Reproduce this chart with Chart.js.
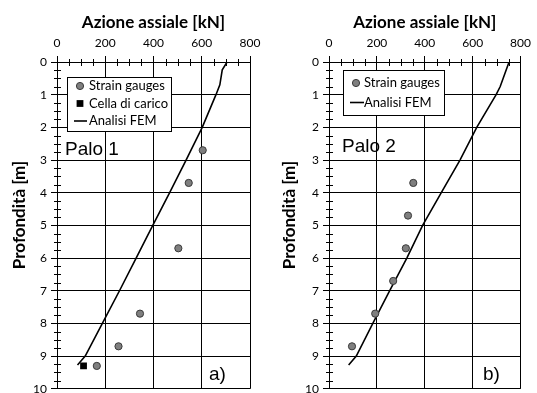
<!DOCTYPE html>
<html><head><meta charset="utf-8">
<script src="https://cdn.jsdelivr.net/npm/chart.js@4.4.0/dist/chart.umd.min.js"></script>
<style>
html,body{margin:0;padding:0;overflow:hidden;background:#fff;width:537px;height:393px;}
.w{position:absolute;top:0;height:400px;}
</style></head><body>
<div class="w" style="left:0;width:270px"><canvas id="c1"></canvas></div>
<div class="w" style="left:270px;width:267px"><canvas id="c2"></canvas></div>
<script>
// ---- data (load in kN, depth in m) ----
const loadMin = 0, loadMax = 800, loadStep = 200;
const depthMin = 0, depthMax = 10, depthStep = 1;

const p1GaugeDepth = [2.7, 3.7, 5.7, 7.7, 8.7, 9.3];
const p1GaugeLoad  = [604, 546, 503, 344, 255, 165];
const p1CellDepth  = [9.3];
const p1CellLoad   = [110];
const p1FemDepth   = [0, 0.24, 0.7, 1, 2, 3, 4, 5, 6, 7, 8, 9, 9.27];
const p1FemLoad    = [705, 685, 675, 659, 602, 535, 467, 397, 328, 259, 188, 117, 85];

const p2GaugeDepth = [3.7, 4.7, 5.7, 6.7, 7.7, 8.7];
const p2GaugeLoad  = [352, 330, 321, 268, 193, 96];
const p2FemDepth   = [0, 0.75, 1, 2, 3, 4, 5, 6, 7, 8, 9, 9.27];
const p2FemLoad    = [752, 715, 698, 617, 547, 469, 391, 325, 253, 183, 114, 82];

const xTitle = 'Azione assiale [kN]';
const yTitle = 'Profondità [m]';
const lblGauge = 'Strain gauges', lblCell = 'Cella di carico', lblFem = 'Analisi FEM';

const pts = (xs, ys) => xs.map((v, i) => ({x: v, y: ys[i]}));
const FONT = 'Lato, "Open Sans", sans-serif';

const minorTicks = {
  id: 'minorTicks',
  afterDraw(chart) {
    const {ctx, scales: {x, y}} = chart;
    ctx.save(); ctx.strokeStyle = '#000'; ctx.lineWidth = 1; ctx.beginPath();
    for (let v = depthMin; v <= depthMax; v += 0.25) {
      if (Number.isInteger(v)) continue;
      const py = Math.round(y.getPixelForValue(v)) + 0.5;
      ctx.moveTo(x.left - 3, py); ctx.lineTo(x.left + 4, py);
    }
    for (let v = loadMin; v <= loadMax; v += 50) {
      if (v % loadStep === 0) continue;
      const px = Math.round(x.getPixelForValue(v)) + 0.5;
      ctx.moveTo(px, y.top - 3); ctx.lineTo(px, y.top + 4);
    }
    ctx.stroke(); ctx.restore();
  }
};

const yTitlePlugin = {
  id: 'yTitlePlugin',
  afterDraw(chart, args, o) {
    const ctx = chart.ctx;
    ctx.save();
    ctx.translate(o.x, o.y); ctx.rotate(-Math.PI / 2);
    ctx.font = 'bold 17px ' + FONT; ctx.fillStyle = '#000';
    ctx.textAlign = 'center'; ctx.textBaseline = 'alphabetic';
    ctx.fillText(yTitle, 0, 0);
    ctx.restore();
  }
};

const boxLegend = {
  id: 'boxLegend',
  afterDatasetsDraw(chart, args, o) {
    const ctx = chart.ctx, b = o.box;
    ctx.save();
    ctx.fillStyle = '#fff'; ctx.fillRect(b[0], b[1], b[2] - b[0], b[3] - b[1]);
    ctx.strokeStyle = '#000'; ctx.lineWidth = 1;
    ctx.strokeRect(b[0] + 0.5, b[1] + 0.5, b[2] - b[0], b[3] - b[1]);
    ctx.font = '13px ' + FONT; ctx.textBaseline = 'middle'; ctx.textAlign = 'left';
    chart.data.datasets.forEach((ds, i) => {
      const ry = o.rowY[i];
      if (ds.showLine) {
        ctx.beginPath(); ctx.strokeStyle = ds.borderColor; ctx.lineWidth = ds.borderWidth;
        ctx.moveTo(o.lineX[0], ry); ctx.lineTo(o.lineX[1], ry); ctx.stroke();
      } else if (ds.pointStyle === 'rect') {
        const s = ds.pointRadius * Math.SQRT1_2;
        ctx.fillStyle = ds.backgroundColor; ctx.fillRect(o.symX - s, ry - s, 2 * s, 2 * s);
      } else {
        ctx.beginPath(); ctx.arc(o.symX, ry, ds.pointRadius, 0, Math.PI * 2);
        ctx.fillStyle = ds.backgroundColor; ctx.fill();
        ctx.strokeStyle = ds.borderColor; ctx.lineWidth = 1; ctx.stroke();
      }
      ctx.fillStyle = '#000';
      ctx.fillText(ds.label, o.textX, ry);
    });
    ctx.restore();
  }
};

const labels = {
  id: 'labels',
  afterDraw(chart, args, o) {
    const ctx = chart.ctx;
    ctx.save(); ctx.fillStyle = '#000'; ctx.textBaseline = 'alphabetic'; ctx.textAlign = 'left';
    ctx.font = '19px "Liberation Sans", Arial, sans-serif';
    o.items.forEach(it => ctx.fillText(it.text, it.x, it.y));
    ctx.restore();
  }
};

function makeChart(id, datasets, yWidth, padRight, legendOpts, labelItems) {
  return new Chart(document.getElementById(id), {
    type: 'scatter',
    data: {datasets},
    plugins: [minorTicks, boxLegend, labels, yTitlePlugin],
    options: {
      responsive: true, maintainAspectRatio: false, animation: false,
      layout: {padding: {left: 0, right: padRight, top: 0, bottom: 10}},
      plugins: {
        legend: {display: false}, tooltip: {enabled: false},
        boxLegend: legendOpts, labels: {items: labelItems},
        yTitlePlugin: {x: 25, y: 215}
      },
      scales: {
        x: {
          type: 'linear', position: 'top', min: loadMin, max: loadMax,
          ticks: {stepSize: loadStep, color: '#000', font: {family: FONT, size: 12}, padding: 6},
          grid: {color: '#000', lineWidth: 1, tickLength: 6},
          border: {color: '#000', width: 1},
          title: {display: true, text: xTitle, color: '#000', font: {family: FONT, size: 17, weight: 'bold'}, padding: {top: 12, bottom: 0}},
          afterFit: s => { s.height = 62; }
        },
        y: {
          type: 'linear', reverse: true, min: depthMin, max: depthMax,
          ticks: {stepSize: depthStep, color: '#000', font: {family: FONT, size: 12}, padding: 4},
          grid: {color: '#000', lineWidth: 1, tickLength: 6},
          border: {color: '#000', width: 1},
          title: {display: false},
          afterFit: s => { s.width = yWidth; }
        }
      }
    }
  });
}

const gaugeStyle = {pointStyle: 'circle', pointRadius: 3.6, backgroundColor: '#7f7f7f', borderColor: '#3a3a3a', pointBorderWidth: 1, showLine: false};
const femStyle = {showLine: true, borderColor: '#000', borderWidth: 1.6, pointRadius: 0, backgroundColor: '#000', tension: 0};

makeChart('c1', [
  Object.assign({label: lblGauge, data: pts(p1GaugeLoad, p1GaugeDepth)}, gaugeStyle),
  {label: lblCell, data: pts(p1CellLoad, p1CellDepth), pointStyle: 'rect', pointRadius: 4.8, backgroundColor: '#000', borderColor: '#000', pointBorderWidth: 0, showLine: false},
  Object.assign({label: lblFem, data: pts(p1FemLoad, p1FemDepth)}, femStyle)
], 57, 20,
  {box: [67, 77, 171, 131], rowY: [86, 103.5, 121], symX: 80, textX: 89, lineX: [74, 87]},
  [{text: 'Palo 1', x: 65, y: 155}, {text: 'a)', x: 209, y: 380}]);

makeChart('c2', [
  Object.assign({label: lblGauge, data: pts(p2GaugeLoad, p2GaugeDepth)}, gaugeStyle),
  Object.assign({label: lblFem, data: pts(p2FemLoad, p2FemDepth)}, femStyle)
], 59, 10,
  {box: [73, 70, 174, 115], rowY: [83, 102.5], symX: 86, textX: 94, lineX: [80, 94]},
  [{text: 'Palo 2', x: 72, y: 152}, {text: 'b)', x: 213, y: 380}]);
</script>
</body></html>
